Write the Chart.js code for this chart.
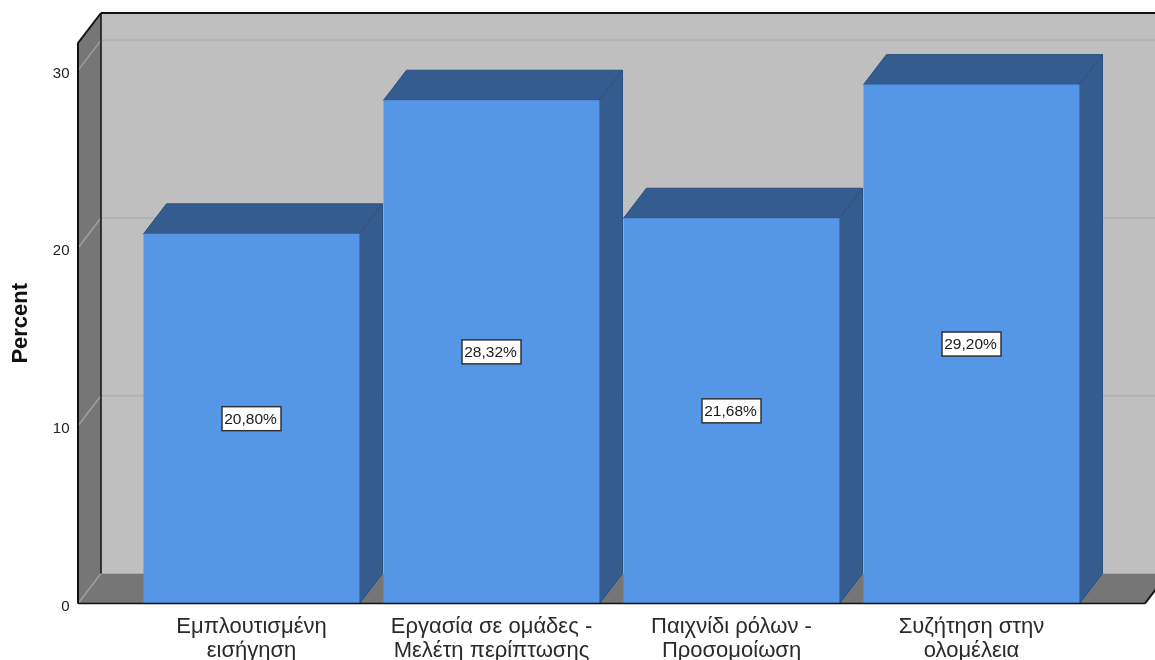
<!DOCTYPE html>
<html>
<head>
<meta charset="utf-8">
<style>html,body{margin:0;padding:0;background:#fff}canvas{display:block}</style>
<script src="https://cdn.jsdelivr.net/npm/chart.js@4"></script>
</head>
<body>
<canvas id="c" width="1155" height="660"></canvas>
<script>
const categories = [
  ["Εμπλουτισμένη", "εισήγηση"],
  ["Εργασία σε ομάδες -", "Μελέτη περίπτωσης"],
  ["Παιχνίδι ρόλων -", "Προσομοίωση"],
  ["Συζήτηση στην", "ολομέλεια"]
];
const percentValues = [20.80, 28.32, 21.68, 29.20];
const yTicks = [0, 10, 20, 30];
const yMax = 31.54;

const depthX = 23, depthY = 30;
const floorLeft = 78, floorRight = 1145;
const colors = {
  wall: "#bfbfbf", sideWall: "#767676", wallGrid: "#b2b2b2", sideGrid: "#a0a0a0",
  barFront: "#5596e6", barDark: "#345c8e", barEdge: "#2c5080", edge: "#111111"
};

function poly(ctx, pts, fill, stroke, lw) {
  ctx.beginPath();
  pts.forEach((p, i) => i ? ctx.lineTo(p[0], p[1]) : ctx.moveTo(p[0], p[1]));
  ctx.closePath();
  if (fill) { ctx.fillStyle = fill; ctx.fill(); }
  if (stroke) { ctx.strokeStyle = stroke; ctx.lineWidth = lw || 1; ctx.stroke(); }
}
function seg(ctx, x1, y1, x2, y2, color, lw) {
  ctx.beginPath(); ctx.moveTo(x1, y1); ctx.lineTo(x2, y2);
  ctx.strokeStyle = color; ctx.lineWidth = lw; ctx.stroke();
}

// Back wall, side wall, floor and the extruded faces of every bar
const box3d = {
  id: "box3d",
  beforeDatasetsDraw(chart) {
    const { ctx, scales: { y } } = chart;
    const top = chart.chartArea.top, base = y.getPixelForValue(0);
    const backL = floorLeft + depthX, backR = floorRight + depthX;
    ctx.save();
    poly(ctx, [[backL, top - depthY + 1], [backR, top - depthY + 1], [backR, base - depthY], [backL, base - depthY]], colors.wall);
    poly(ctx, [[floorLeft, top], [backL, top - depthY + 1], [backL, base - depthY], [floorLeft, base]], colors.sideWall);
    poly(ctx, [[floorLeft, base], [backL, base - depthY], [backR, base - depthY], [floorRight, base]], colors.sideWall);
    yTicks.forEach(v => {
      const py = y.getPixelForValue(v);
      if (v > 0) seg(ctx, backL, py - depthY, backR, py - depthY, colors.wallGrid, 2);
      seg(ctx, floorLeft, py, backL, py - depthY, colors.sideGrid, 1.5);
    });
    seg(ctx, backL, top - depthY, backR, top - depthY, colors.edge, 2);
    seg(ctx, floorLeft, top, backL, top - depthY, colors.edge, 2);
    seg(ctx, floorLeft, top, floorLeft, base, colors.edge, 2);
    seg(ctx, backL, top - depthY, backL, base - depthY, colors.edge, 1.5);
    seg(ctx, floorRight, base, backR, base - depthY, colors.edge, 2);
    chart.getDatasetMeta(0).data.forEach(bar => {
      const l = bar.x - bar.width / 2, r = bar.x + bar.width / 2;
      poly(ctx, [[l, bar.y], [l + depthX, bar.y - depthY], [r + depthX, bar.y - depthY], [r, bar.y]], colors.barDark, colors.barEdge, 1);
      poly(ctx, [[r, bar.y], [r + depthX, bar.y - depthY], [r + depthX, base - depthY], [r, base]], colors.barDark, colors.barEdge, 1);
    });
    ctx.restore();
  },
  afterDatasetsDraw(chart) {
    const { ctx, scales: { y } } = chart;
    const base = y.getPixelForValue(0);
    ctx.save();
    seg(ctx, floorLeft, base, floorRight, base, colors.edge, 1.5);
    ctx.font = '15.5px "Liberation Sans"';
    ctx.textAlign = "center";
    ctx.textBaseline = "middle";
    chart.getDatasetMeta(0).data.forEach((bar, i) => {
      const cy = (bar.y + base) / 2, cx = bar.x;
      const text = percentValues[i].toFixed(2).replace(".", ",") + "%";
      const w = 59, h = 24;
      ctx.fillStyle = "#ffffff";
      ctx.fillRect(cx - w / 2, cy - h / 2, w, h);
      ctx.strokeStyle = "#333333";
      ctx.lineWidth = 1.5;
      ctx.strokeRect(cx - w / 2, cy - h / 2, w, h);
      ctx.fillStyle = "#1a1a1a";
      ctx.fillText(text, cx - 1, cy + 1);
    });
    ctx.restore();
  }
};

new Chart(document.getElementById("c"), {
  type: "bar",
  plugins: [box3d],
  data: {
    labels: categories,
    datasets: [{
      data: percentValues,
      backgroundColor: colors.barFront,
      borderWidth: 0,
      barPercentage: 0.9,
      categoryPercentage: 1
    }]
  },
  options: {
    responsive: false,
    animation: false,
    layout: { padding: { left: 0, right: 63.5, top: 43, bottom: 0 } },
    plugins: { legend: { display: false }, tooltip: { enabled: false } },
    scales: {
      x: {
        offset: true,
        afterFit(scale) { scale.height = 56.5; scale.paddingLeft = 0; scale.paddingRight = 0; },
        grid: { display: false, drawTicks: false },
        border: { display: false },
        ticks: {
          autoSkip: false, maxRotation: 0, minRotation: 0, padding: 12,
          color: "#2a2a2a",
          font: { family: '"Liberation Sans"', size: 22, lineHeight: 1.06 }
        }
      },
      y: {
        min: 0, max: yMax,
        afterFit(scale) { scale.width = 131.5; scale.paddingTop = 0; scale.paddingBottom = 0; },
        grid: { display: false, drawTicks: false },
        border: { display: false },
        title: {
          display: true, text: "Percent", color: "#111111",
          font: { family: '"Liberation Sans"', size: 22, weight: "bold" },
          padding: { top: 8, bottom: 0 }
        },
        ticks: {
          stepSize: 10, includeBounds: false, padding: 62, labelOffset: 3,
          color: "#222222",
          font: { family: '"Liberation Sans"', size: 15 }
        }
      }
    }
  }
});
</script>
</body>
</html>
